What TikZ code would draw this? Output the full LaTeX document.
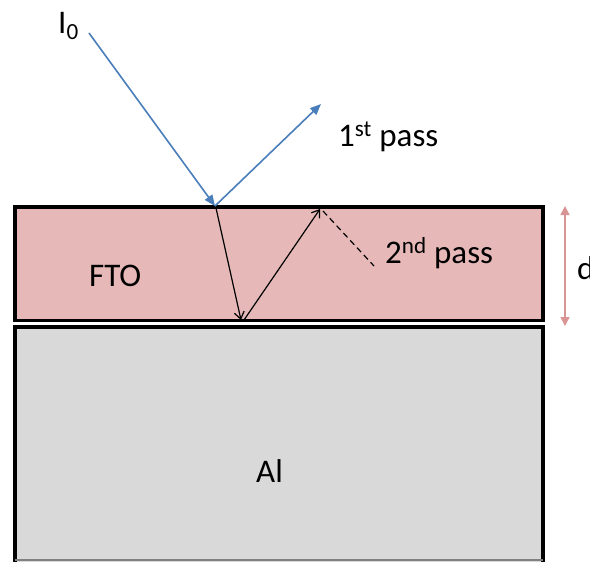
\documentclass[tikz,border=0pt]{standalone}
\usepackage{fontspec}
\setmainfont{Carlito}
\usetikzlibrary{arrows.meta}
\definecolor{ftofill}{RGB}{230,185,184}
\definecolor{alfill}{RGB}{217,217,217}
\definecolor{beam}{RGB}{74,126,187}
\definecolor{dcol}{RGB}{217,149,148}
\tikzset{
  layer/.style={draw=black, line width=3.2pt},
  beamarrow/.style={draw=beam, line width=1.6pt, -{Triangle[length=11pt,width=9pt]}},
  inner/.style={draw=black, line width=1.2pt, -{Straight Barb[length=7pt,width=10pt]}},
  lbl/.style={font=\fontsize{33}{36}\selectfont, inner sep=0pt, anchor=base west},
}
\begin{document}
\begin{tikzpicture}[x=1pt,y=-1pt]
\useasboundingbox (0,0) rectangle (590,562);
\clip (0,0) rectangle (590,562);
% layers
\fill[alfill] (15,327) rectangle (543,562);
\draw[layer] (15,575) -- (15,327) -- (543,327) -- (543,575);
\draw[gray, line width=1.5pt] (15,560) -- (543,560);
\draw[layer, fill=ftofill] (15,207) rectangle (543,320.5);
% coordinates
\coordinate (src) at (89,33);
\coordinate (hit) at (215,206);
\coordinate (out1) at (321,104);
\coordinate (bot) at (241,320);
\coordinate (bot2) at (244,320);
\coordinate (top2) at (320,209);
\coordinate (dash1) at (323,211);
\coordinate (dash2) at (374,266);
\coordinate (dtop) at (565,206);
\coordinate (dbot) at (565,326);
% beams
\draw[beamarrow] (src) -- (hit);
\draw[beamarrow] (hit) -- (out1);
\draw[inner] (216,208) -- (bot);
\draw[inner] (bot2) -- (top2);
\draw[black, line width=1.2pt, dash pattern=on 6pt off 4pt] (dash1) -- (dash2);
\draw[dcol, line width=1.6pt, {Triangle[length=9pt,width=9pt]}-{Triangle[length=9pt,width=9pt]}] (dtop) -- (dbot);
% labels
\node[lbl] (i0) at (58,33) {I\textsubscript{0}};
\node[lbl] (p1) at (338,146) {1\textsuperscript{st} pass};
\node[lbl] (p2) at (385,263) {2\textsuperscript{nd} pass};
\node[lbl] (fto) at (89,286) {FTO};
\node[lbl] (al) at (256,482) {Al};
\node[lbl] (d) at (577,279) {d};
\end{tikzpicture}
\end{document}
